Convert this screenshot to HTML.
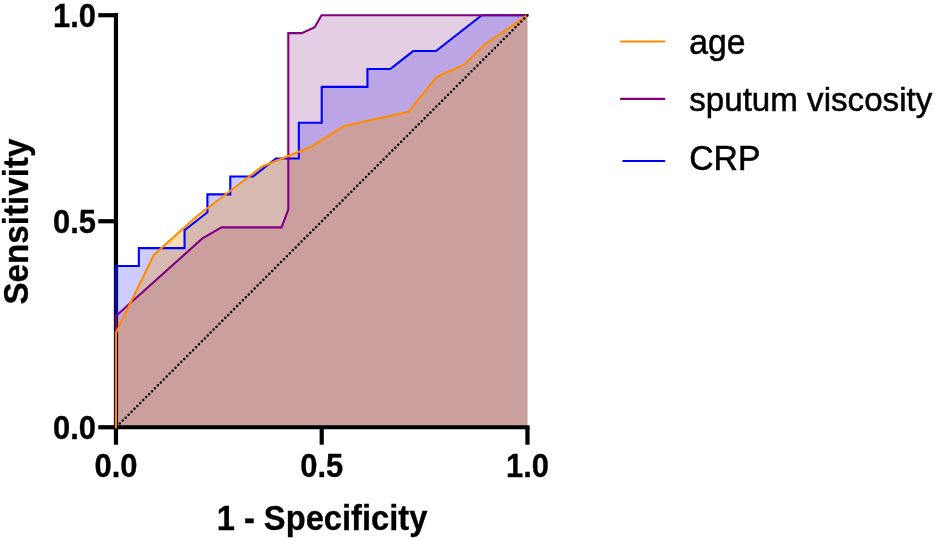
<!DOCTYPE html>
<html lang="en">
<head>
<meta charset="utf-8">
<title>ROC curves</title>
<style>
html,body{margin:0;padding:0;background:#fff;}
body{width:935px;height:541px;overflow:hidden;}
svg{display:block;filter:blur(0.65px);}
text{font-family:"Liberation Sans",Arial,Helvetica,sans-serif;fill:#000;}
.b{font-weight:bold;}
.tick{font-size:31px;font-weight:bold;stroke:#000;stroke-width:0.3px;}
.axl{font-size:32.7px;font-weight:bold;stroke:#000;stroke-width:0.3px;}
.leg{font-size:33.05px;stroke:#000;stroke-width:0.5px;}
</style>
</head>
<body>
<svg width="935" height="541" viewBox="0 0 935 541">
<rect x="0" y="0" width="935" height="541" fill="#ffffff"/>
<!-- filled areas -->
<polygon points="115.96,427.25 115.96,266.02 138.82,266.02 138.82,248.11 184.54,248.11 184.54,230.19 207.40,212.28 207.40,194.36 230.26,194.36 230.26,176.45 253.12,176.45 275.98,158.53 298.84,158.53 298.84,122.71 321.71,122.71 321.71,86.88 367.43,86.88 367.43,68.96 390.29,68.96 413.15,51.05 436.01,51.05 481.73,15.22 527.45,15.22 527.45,427.25" fill="#0000ff" fill-opacity="0.2"/>
<polygon points="115.96,427.25 115.96,316.00 202.10,238.70 221.50,227.40 281.50,227.40 288.30,209.60 288.30,33.13 301.70,33.13 314.70,27.20 321.50,15.22 527.45,15.22 527.45,427.25" fill="#7a0a7a" fill-opacity="0.2"/>
<polygon points="115.96,427.25 115.96,332.70 153.80,254.90 196.80,216.20 262.30,166.50 311.80,146.50 344.20,125.90 408.60,111.70 436.60,76.80 464.60,64.40 484.00,45.00 527.45,15.22 527.45,427.25" fill="#f09200" fill-opacity="0.305"/>
<!-- axes -->
<g stroke="#000" stroke-width="4.2" fill="none" stroke-linecap="butt">
<path d="M115.96,13.12 V429.35"/>
<path d="M113.86,427.25 H529.55"/>
<path d="M98.3,15.22 H115.96"/>
<path d="M98.3,221.24 H115.96"/>
<path d="M98.3,427.25 H115.96"/>
<path d="M115.96,427.25 V444.7"/>
<path d="M321.71,427.25 V444.7"/>
<path d="M527.45,427.25 V444.7"/>
</g>
<!-- curves -->
<g fill="none" stroke-width="2.1" stroke-linejoin="miter" stroke-linecap="square">
<polyline points="115.96,427.25 115.96,266.02 138.82,266.02 138.82,248.11 184.54,248.11 184.54,230.19 207.40,212.28 207.40,194.36 230.26,194.36 230.26,176.45 253.12,176.45 275.98,158.53 298.84,158.53 298.84,122.71 321.71,122.71 321.71,86.88 367.43,86.88 367.43,68.96 390.29,68.96 413.15,51.05 436.01,51.05 481.73,15.22 527.45,15.22" stroke="#0000ff"/>
<polyline points="115.96,427.25 115.96,316.00 202.10,238.70 221.50,227.40 281.50,227.40 288.30,209.60 288.30,33.13 301.70,33.13 314.70,27.20 321.50,15.22 527.45,15.22" stroke="#800080"/>
<polyline points="115.96,427.25 115.96,332.70 153.80,254.90 196.80,216.20 262.30,166.50 311.80,146.50 344.20,125.90 408.60,111.70 436.60,76.80 464.60,64.40 484.00,45.00 527.45,15.22" stroke="#ff8c00"/>
</g>
<!-- reference diagonal -->
<line x1="527.2" y1="15.6" x2="119.8" y2="423.5" stroke="#000" stroke-width="2.5" stroke-linecap="round" stroke-dasharray="0 4.1475"/>
<!-- y tick labels -->
<g class="tick" text-anchor="end">
<text transform="translate(96.0,26.5) scale(0.998,1.075)">1.0</text>
<text transform="translate(96.0,232.6) scale(0.998,1.075)">0.5</text>
<text transform="translate(96.0,438.7) scale(0.998,1.075)">0.0</text>
</g>
<!-- x tick labels -->
<g class="tick" text-anchor="middle">
<text transform="translate(115.96,476.6) scale(0.998,1.075)">0.0</text>
<text transform="translate(321.71,476.6) scale(0.998,1.075)">0.5</text>
<text transform="translate(527.45,476.6) scale(0.998,1.075)">1.0</text>
</g>
<text class="axl" text-anchor="middle" transform="translate(322.0,530.2) scale(1,1.05)">1 - Specificity</text>
<text class="axl" text-anchor="middle" transform="translate(28.3,221.6) rotate(-90) scale(1.0147,1.05)">Sensitivity</text>
<!-- legend -->
<g stroke-width="2.1" stroke-linecap="round" fill="none">
<line x1="621" y1="41.5" x2="664.4" y2="41.5" stroke="#ff8c00"/>
<line x1="621" y1="98.9" x2="664.4" y2="98.9" stroke="#800080"/>
<line x1="623.3" y1="161" x2="664.4" y2="161" stroke="#0000ff"/>
</g>
<g class="leg">
<text transform="translate(689.2,53.5) scale(1.02,1.04)">age</text>
<text transform="translate(689.2,111.4) scale(1.003,1.032)">sputum viscosity</text>
<text transform="translate(689.2,169.9) scale(1.02,1.085)">CRP</text>
</g>
</svg>
</body>
</html>
